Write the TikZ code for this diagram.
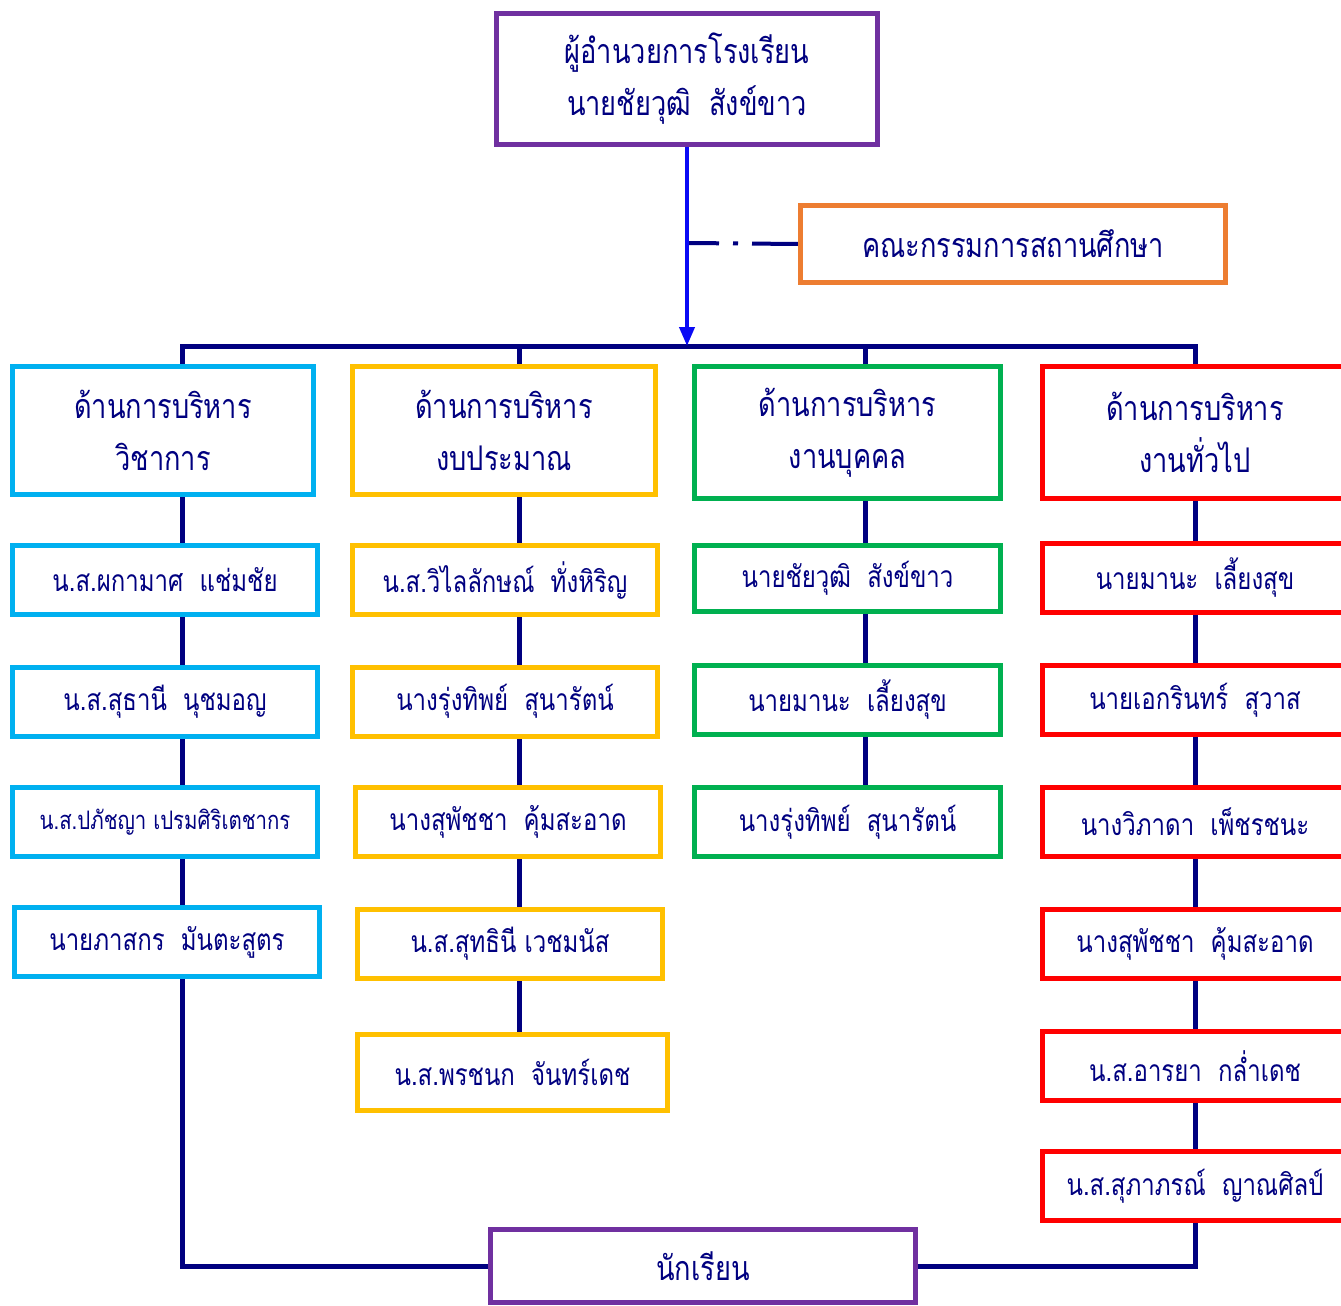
\documentclass[tikz,border=0pt]{standalone}
\usepackage{fontspec}
\usetikzlibrary{arrows.meta,backgrounds}
\newfontfamily\thai[Script=Thai,FakeStretch=0.8]{Loma}
\definecolor{cNavy}{HTML}{000080}
\definecolor{cBlue}{HTML}{0A0AF5}
\definecolor{cCyan}{HTML}{00B0F0}
\definecolor{cGold}{HTML}{FFC000}
\definecolor{cGreen}{HTML}{00B050}
\definecolor{cRed}{HTML}{FF0000}
\definecolor{cPurple}{HTML}{7030A0}
\definecolor{cOrange}{HTML}{ED7D31}
\tikzset{
  box/.style={draw, line width=5pt, fill=white, text=cNavy, inner sep=0pt, align=center,
    font=\thai\fontsize{34}{52}\selectfont},
  mbox/.style={box, minimum height=69pt, font=\thai\fontsize{30}{36}\selectfont},
  cy/.style={draw=cCyan}, go/.style={draw=cGold}, gr/.style={draw=cGreen}, rd/.style={draw=cRed},
  pu/.style={draw=cPurple}, orng/.style={draw=cOrange},
  bus/.style={draw=cNavy, line width=5pt},
  arr/.style={draw=cBlue, line width=4pt, -{Triangle[width=15pt,length=19pt]}},
  dashdot/.style={draw=cNavy, line width=4pt, dash pattern=on 30pt off 14pt on 5pt off 14pt on 60pt}
}
\begin{document}
\begin{tikzpicture}[x=1pt,y=-1pt]
\useasboundingbox (0,0) rectangle (1341,1306);
% top
\node[box, pu, minimum width=381pt, minimum height=131pt] (top) at (687,79) {ผู้อำนวยการโรงเรียน\\นายชัยวุฒิ\ \ สังข์ขาว};
\node[box, orng, minimum width=425pt, minimum height=77pt] (com) at (1013,244) {คณะกรรมการสถานศึกษา};
% headers
\node[box, cy, minimum width=301pt, minimum height=128pt] (h1) at (163,430.5) {ด้านการบริหาร\\วิชาการ};
\node[box, go, minimum width=303pt, minimum height=128pt] (h2) at (504,430.5) {ด้านการบริหาร\\งบประมาณ};
\node[box, gr, minimum width=306pt, minimum height=132pt] (h3) at (847.5,432.5) {ด้านการบริหาร\\งานบุคคล};
\node[box, rd, minimum width=305pt, minimum height=132pt] (h4) at (1195,432.5) {ด้านการบริหาร\\งานทั่วไป};
% column 1
\node[mbox, cy, minimum width=305pt] (m11) at (165,580) {น.ส.ผกามาศ\ \ แช่มชัย};
\node[mbox, cy, minimum width=305pt] (m12) at (165,701.5) {น.ส.สุธานี\ \ นุชมอญ};
\node[mbox, cy, minimum width=305pt, font=\thai\fontsize{25.5}{30}\selectfont] (m13) at (165,822) {น.ส.ปภัชญา เปรมศิริเตชากร};
\node[mbox, cy, minimum width=305pt] (m14) at (167,942) {นายภาสกร\ \ มันตะสูตร};
% column 2
\node[mbox, go, minimum width=305pt] (m21) at (505,580) {น.ส.วิไลลักษณ์\ \ ทั่งหิริญ};
\node[mbox, go, minimum width=305pt] (m22) at (505,701.5) {นางรุ่งทิพย์\ \ สุนารัตน์};
\node[mbox, go, minimum width=305pt] (m23) at (508,822) {นางสุพัชชา\ \ คุ้มสะอาด};
\node[mbox, go, minimum width=305pt] (m24) at (510,943.5) {น.ส.สุทธินี เวชมนัส};
\node[mbox, go, minimum width=310pt, minimum height=76pt] (m25) at (512.5,1072.5) {น.ส.พรชนก\ \ จันทร์เดช};
% column 3
\node[mbox, gr, minimum width=306pt, minimum height=66pt] (m31) at (847.5,578.5) {นายชัยวุฒิ\ \ สังข์ขาว};
\node[mbox, gr, minimum width=306pt] (m32) at (847.5,700) {นายมานะ\ \ เลี้ยงสุข};
\node[mbox, gr, minimum width=306pt] (m33) at (847.5,822) {นางรุ่งทิพย์\ \ สุนารัตน์};
% column 4
\node[mbox, rd, minimum width=305pt] (m41) at (1195,578) {นายมานะ\ \ เลี้ยงสุข};
\node[mbox, rd, minimum width=305pt] (m42) at (1195,700) {นายเอกรินทร์\ \ สุวาส};
\node[mbox, rd, minimum width=305pt] (m43) at (1195,822) {นางวิภาดา\ \ เพ็ชรชนะ};
\node[mbox, rd, minimum width=305pt] (m44) at (1195,944) {นางสุพัชชา\ \ คุ้มสะอาด};
\node[mbox, rd, minimum width=305pt] (m45) at (1195,1066) {น.ส.อารยา\ \ กล่ำเดช};
\node[mbox, rd, minimum width=305pt] (m46) at (1195,1186) {น.ส.สุภาภรณ์\ \ ญาณศิลป์};
% students
\node[box, pu, minimum width=425pt, minimum height=73pt] (st) at (703,1266) {นักเรียน};
% connectors
\coordinate (b1) at (182,346);
\coordinate (b2) at (519,346);
\coordinate (b3) at (865,346);
\coordinate (b4) at (1195,346);
\coordinate (bt) at (687,346);
\coordinate (dj) at (689,243);
\begin{scope}[on background layer]
\draw[bus] (st.west) -| (b1) -- (b4) |- (st.east);
\draw[bus] (b2) -- (b2 |- m25.north);
\draw[bus] (b3) -- (b3 |- m33.north);
\draw[dashdot] (dj) -- (com.west);
\end{scope}
\draw[arr] (top.south) -- (bt);
\end{tikzpicture}
\end{document}
